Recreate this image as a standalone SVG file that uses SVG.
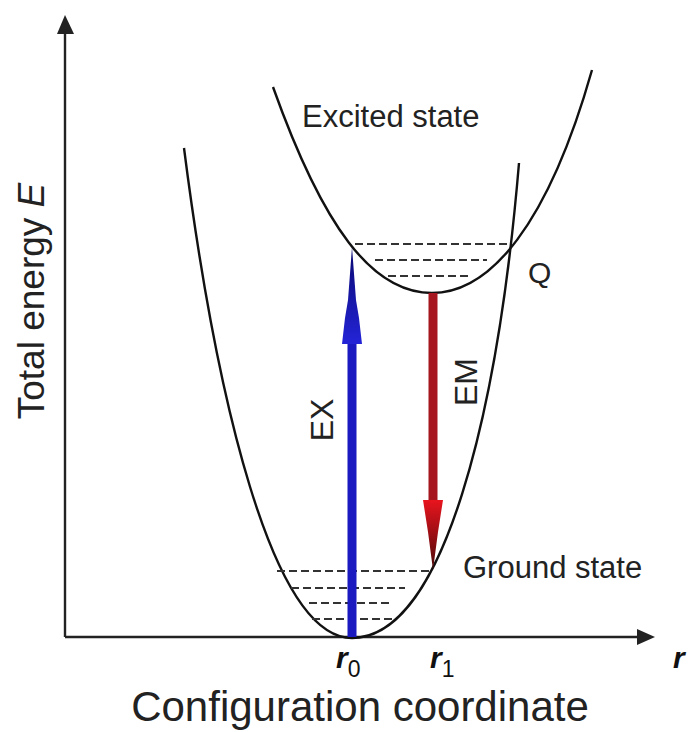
<svg xmlns="http://www.w3.org/2000/svg" width="691" height="732" viewBox="0 0 691 732">
  <defs>
    <style>
      .curve { fill: none; stroke: #111; stroke-width: 2.4; }
      .level { fill: none; stroke: #333; stroke-width: 2.2; stroke-dasharray: 8 4; }
      .axis { fill: none; stroke: #222; stroke-width: 2.4; }
      .lbl { font-family: "Liberation Sans", Arial, sans-serif; fill: #222; }
      .rlbl { font-family: "Liberation Sans", Arial, sans-serif; fill: #111; font-style: italic; font-weight: bold; }
    </style>
    <linearGradient id="blueHead" x1="0" y1="0" x2="0" y2="1">
      <stop offset="0" stop-color="#080870"/>
      <stop offset="1" stop-color="#2424d8"/>
    </linearGradient>
    <linearGradient id="redHead" x1="0" y1="0" x2="0" y2="1">
      <stop offset="0" stop-color="#e8141e"/>
      <stop offset="1" stop-color="#4a0808"/>
    </linearGradient>
  </defs>
  <rect width="691" height="732" fill="#fff"/>

  <g id="axes">
    <path class="axis" d="M65,637 V30 M65,637 H640"/>
    <polygon points="65,15 57,34 74,34" fill="#222"/>
    <polygon points="655,637 637,629 637,645" fill="#222"/>
  </g>

  <g id="ground-state">
    <path class="curve" d="M184,148 C216,398 272,638 352,638 C444,638 498,412 519,163"/>
    <path class="level" d="M277,571 H432 M291,588 H405 M309,603 H393 M312,619 H392"/>
  </g>

  <g id="excited-state">
    <path class="curve" d="M273,87 C323,227 372,293 432,293 C490,293 548,225 592,70"/>
    <path class="level" d="M355,244 H511 M375,260 H487 M388,276 H471"/>
  </g>

  <g id="connectors">
    <g id="EX-arrow">
      <rect x="347.5" y="340" width="9" height="297" fill="#1a1ac0"/>
      <polygon points="342,344 345,318 348,300 352,247 356,300 359,318 362,344" fill="url(#blueHead)"/>
    </g>
    <g id="EM-arrow">
      <rect x="428.5" y="293" width="9" height="210" fill="#a5161e"/>
      <polygon points="423,500 443,500 438,532 433,570 428,532" fill="url(#redHead)"/>
    </g>
  </g>

  <g id="labels">
    <text class="lbl" x="302" y="127" font-size="31">Excited state</text>
    <text class="lbl" x="463" y="578" font-size="31">Ground state</text>
    <text class="lbl" x="528" y="283" font-size="30">Q</text>
    <text class="lbl" font-size="32" text-anchor="middle" transform="translate(333,420) rotate(-90)">EX</text>
    <text class="lbl" font-size="32" text-anchor="middle" transform="translate(477,382) rotate(-90)">EM</text>
    <text class="lbl" font-size="37" text-anchor="middle" transform="translate(44,301) rotate(-90)">Total energy <tspan font-style="italic">E</tspan></text>
    <text class="lbl" x="360" y="721" font-size="42" text-anchor="middle">Configuration coordinate</text>
    <text class="rlbl" x="336" y="668" font-size="30">r<tspan font-style="normal" font-weight="normal" font-size="23" dy="9">0</tspan></text>
    <text class="rlbl" x="430" y="668" font-size="30">r<tspan font-style="normal" font-weight="normal" font-size="23" dy="9">1</tspan></text>
    <text class="rlbl" x="673" y="668" font-size="30">r</text>
  </g>
</svg>
